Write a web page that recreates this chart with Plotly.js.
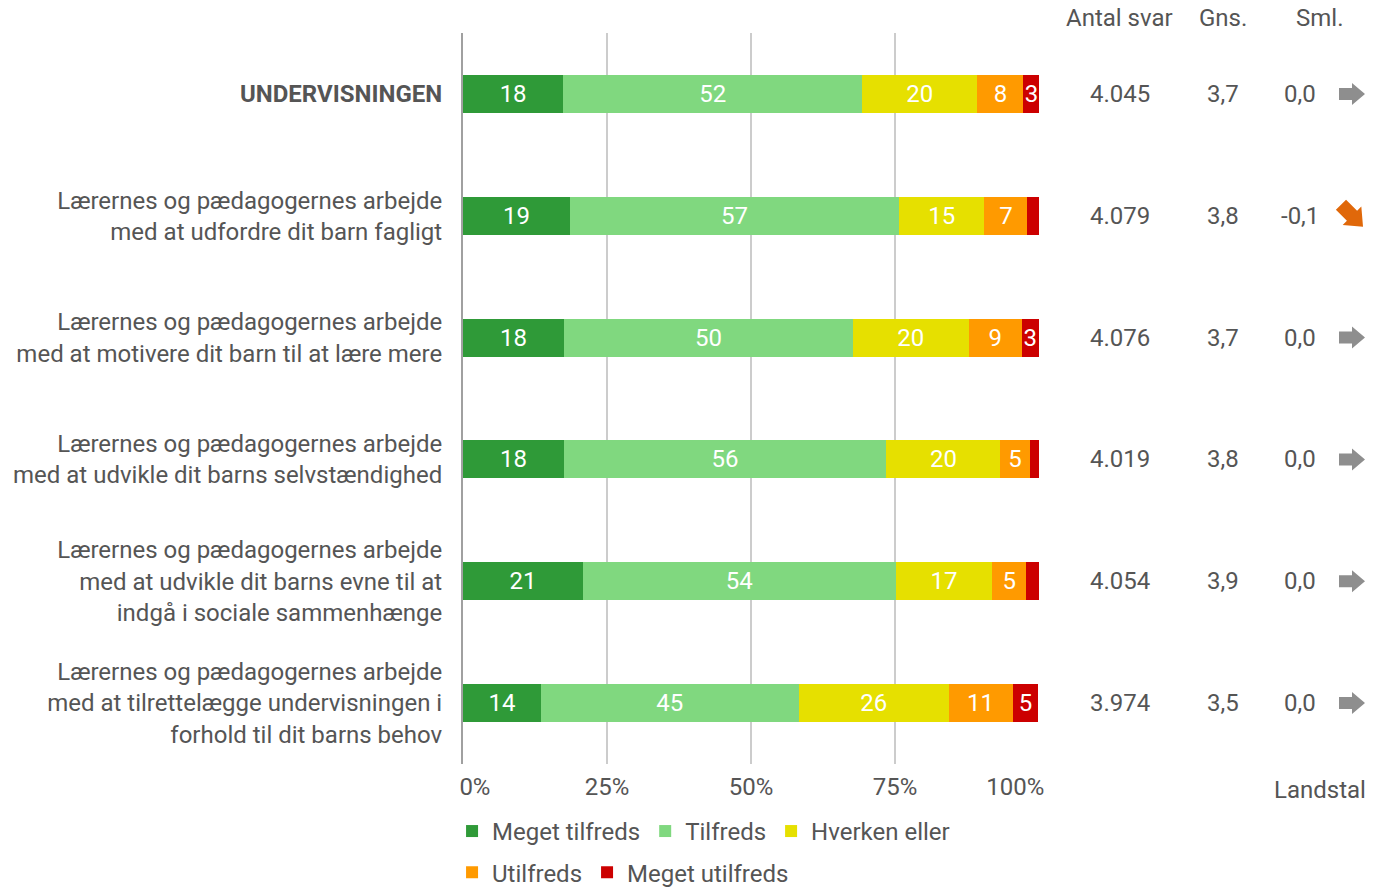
<!DOCTYPE html>
<html>
<head>
<meta charset="utf-8">
<script src="https://cdn.plot.ly/plotly-3.0.1.min.js"></script>
<style>html,body{margin:0;padding:0;background:#fff;}</style>
</head>
<body>
<div id="chart" style="width:1391px;height:887px;"></div>
<script>
// Categories (top to bottom)
const categories = [
  "<b>UNDERVISNINGEN</b>",
  "Lærernes og pædagogernes arbejde<br>med at udfordre dit barn fagligt",
  "Lærernes og pædagogernes arbejde<br>med at motivere dit barn til at lære mere",
  "Lærernes og pædagogernes arbejde<br>med at udvikle dit barns selvstændighed",
  "Lærernes og pædagogernes arbejde<br>med at udvikle dit barns evne til at<br>indgå i sociale sammenhænge",
  "Lærernes og pædagogernes arbejde<br>med at tilrettelægge undervisningen i<br>forhold til dit barns behov"
];
// Series shares (%)
const megetTilfreds   = [17.4, 18.6, 17.5, 17.5, 20.8, 13.5];
const tilfreds        = [51.9, 57.1, 50.2, 56.0, 54.3, 44.8];
const hverkenEller    = [20.0, 14.8, 20.1, 19.8, 16.8, 26.0];
const utilfreds       = [ 8.0,  7.5,  9.2,  5.1,  5.9, 11.1];
const megetUtilfreds  = [ 2.8,  2.1,  3.0,  1.6,  2.2,  4.5];
// Labels printed on the segments
const megetTilfredsLbl  = ["18","19","18","18","21","14"];
const tilfredsLbl       = ["52","57","50","56","54","45"];
const hverkenEllerLbl   = ["20","15","20","20","17","26"];
const utilfredsLbl      = ["8","7","9","5","5","11"];
const megetUtilfredsLbl = ["3","","3","","","5"];
// Right-hand columns
const antalSvar = ["4.045","4.079","4.076","4.019","4.054","3.974"];
const gns       = ["3,7","3,8","3,7","3,8","3,9","3,5"];
const sml       = ["0,0","-0,1","0,0","0,0","0,0","0,0"];
const trend     = ["flat","down","flat","flat","flat","flat"];
const xTicks    = [0, 25, 50, 75, 100];
const xTickText = ["0%","25%","50%","75%","100%"];

const FONT = "Roboto, 'Noto Sans', sans-serif";
const TXT = "#555555";
const FS = 24;
const NB = "\u00a0";

// first tick label sits right of its tick, last one left of it (as in the reference)
const xTickShown = xTickText.map((t, i) =>
  i === 0 ? NB.repeat(4) + t : (i === xTickText.length - 1 ? t + NB.repeat(8) : t));

function bar(name, vals, lbls, color, legend) {
  return {
    type: "bar", orientation: "h", name: name,
    x: vals, y: categories, text: lbls,
    textposition: "inside", insidetextanchor: "middle", constraintext: "none",
    textfont: {color: "#ffffff", size: FS, family: FONT},
    marker: {color: color, line: {width: 0}},
    hoverinfo: "skip", legend: legend
  };
}
const data = [
  bar("Meget tilfreds", megetTilfreds, megetTilfredsLbl, "#2f9a38", "legend"),
  bar("Tilfreds", tilfreds, tilfredsLbl, "#80d87f", "legend"),
  bar("Hverken eller", hverkenEller, hverkenEllerLbl, "#e6e000", "legend"),
  bar("Utilfreds", utilfreds, utilfredsLbl, "#ff9a00", "legend2"),
  bar("Meget utilfreds", megetUtilfreds, megetUtilfredsLbl, "#cc0000", "legend2")
];

const ann = [];
const shapes = [];
const colX = {antal: 1.1406, gns: 1.3194, sml: 1.4531, arrow: 1.5434};
function txt(x, y, yref, s) {
  return {xref:"paper", yref:yref, x:x, y:y, text:s, showarrow:false,
    xanchor:"center", yanchor:"middle", font:{size:FS, color:TXT, family:FONT}};
}
ann.push(txt(1.1389, 1.0205, "paper", "Antal svar"));
ann.push(txt(1.3194, 1.0205, "paper", "Gns."));
ann.push(txt(1.4878, 1.0205, "paper", "Sml."));
ann.push(txt(1.4878, -0.0356, "paper", "Landstal"));

// Block arrow icon (pointing right), pixel units, rotated for trend
const arrowPts = [[-13,-6],[0,-6],[0,-11],[13,0],[0,11],[0,6],[-13,6]];
function arrowPath(angleDeg, scale) {
  const a = angleDeg * Math.PI / 180;
  return "M" + arrowPts.map(p => {
    const x = scale * (p[0]*Math.cos(a) - p[1]*Math.sin(a));
    const y = scale * (p[0]*Math.sin(a) + p[1]*Math.cos(a));
    return x.toFixed(2) + "," + y.toFixed(2);
  }).join("L") + "Z";
}
categories.forEach((c, i) => {
  ann.push(txt(colX.antal, c, "y", antalSvar[i]));
  ann.push(txt(colX.gns, c, "y", gns[i]));
  ann.push(txt(colX.sml, c, "y", sml[i]));
  const down = trend[i] === "down";
  shapes.push({
    type: "path", xref: "paper", yref: "y",
    xsizemode: "pixel", ysizemode: "pixel",
    xanchor: colX.arrow, yanchor: c,
    path: down ? arrowPath(-45, 1.2) : arrowPath(0, 1),
    fillcolor: down ? "#e0680a" : "#8e8e8e",
    line: {width: 0}, layer: "above"
  });
});

const layout = {
  width: 1391, height: 887,
  margin: {l: 463, r: 352, t: 33, b: 123, pad: 0, autoexpand: false},
  paper_bgcolor: "#ffffff", plot_bgcolor: "#ffffff",
  barmode: "stack", bargap: 0.688,
  font: {family: FONT, color: TXT, size: FS},
  xaxis: {
    range: [0, 100], tickvals: xTicks, ticktext: xTickShown,
    showgrid: true, gridcolor: "#cccccc", gridwidth: 2,
    zeroline: false, showline: false, ticks: "",
    tickfont: {size: FS, color: TXT, family: FONT}, ticklabelstandoff: 6,
    fixedrange: true, automargin: false
  },
  yaxis: {
    type: "category", autorange: "reversed",
    showline: true, linecolor: "#a0a0a0", linewidth: 2,
    showgrid: false, ticks: "", ticklabelstandoff: 14,
    tickfont: {size: FS, color: TXT, family: FONT},
    fixedrange: true, automargin: false
  },
  legend: {
    orientation: "h", x: -0.019, xanchor: "left",
    yref: "container", y: 0.0880, yanchor: "top",
    font: {size: FS, color: TXT, family: FONT}, traceorder: "normal",
    itemclick: false, itemdoubleclick: false
  },
  legend2: {
    orientation: "h", x: -0.019, xanchor: "left",
    yref: "container", y: 0.0415, yanchor: "top",
    font: {size: FS, color: TXT, family: FONT}, traceorder: "normal",
    itemclick: false, itemdoubleclick: false
  },
  annotations: ann,
  shapes: shapes,
  showlegend: true
};

Plotly.newPlot("chart", data, layout, {displayModeBar: false, staticPlot: true});
</script>
</body>
</html>
